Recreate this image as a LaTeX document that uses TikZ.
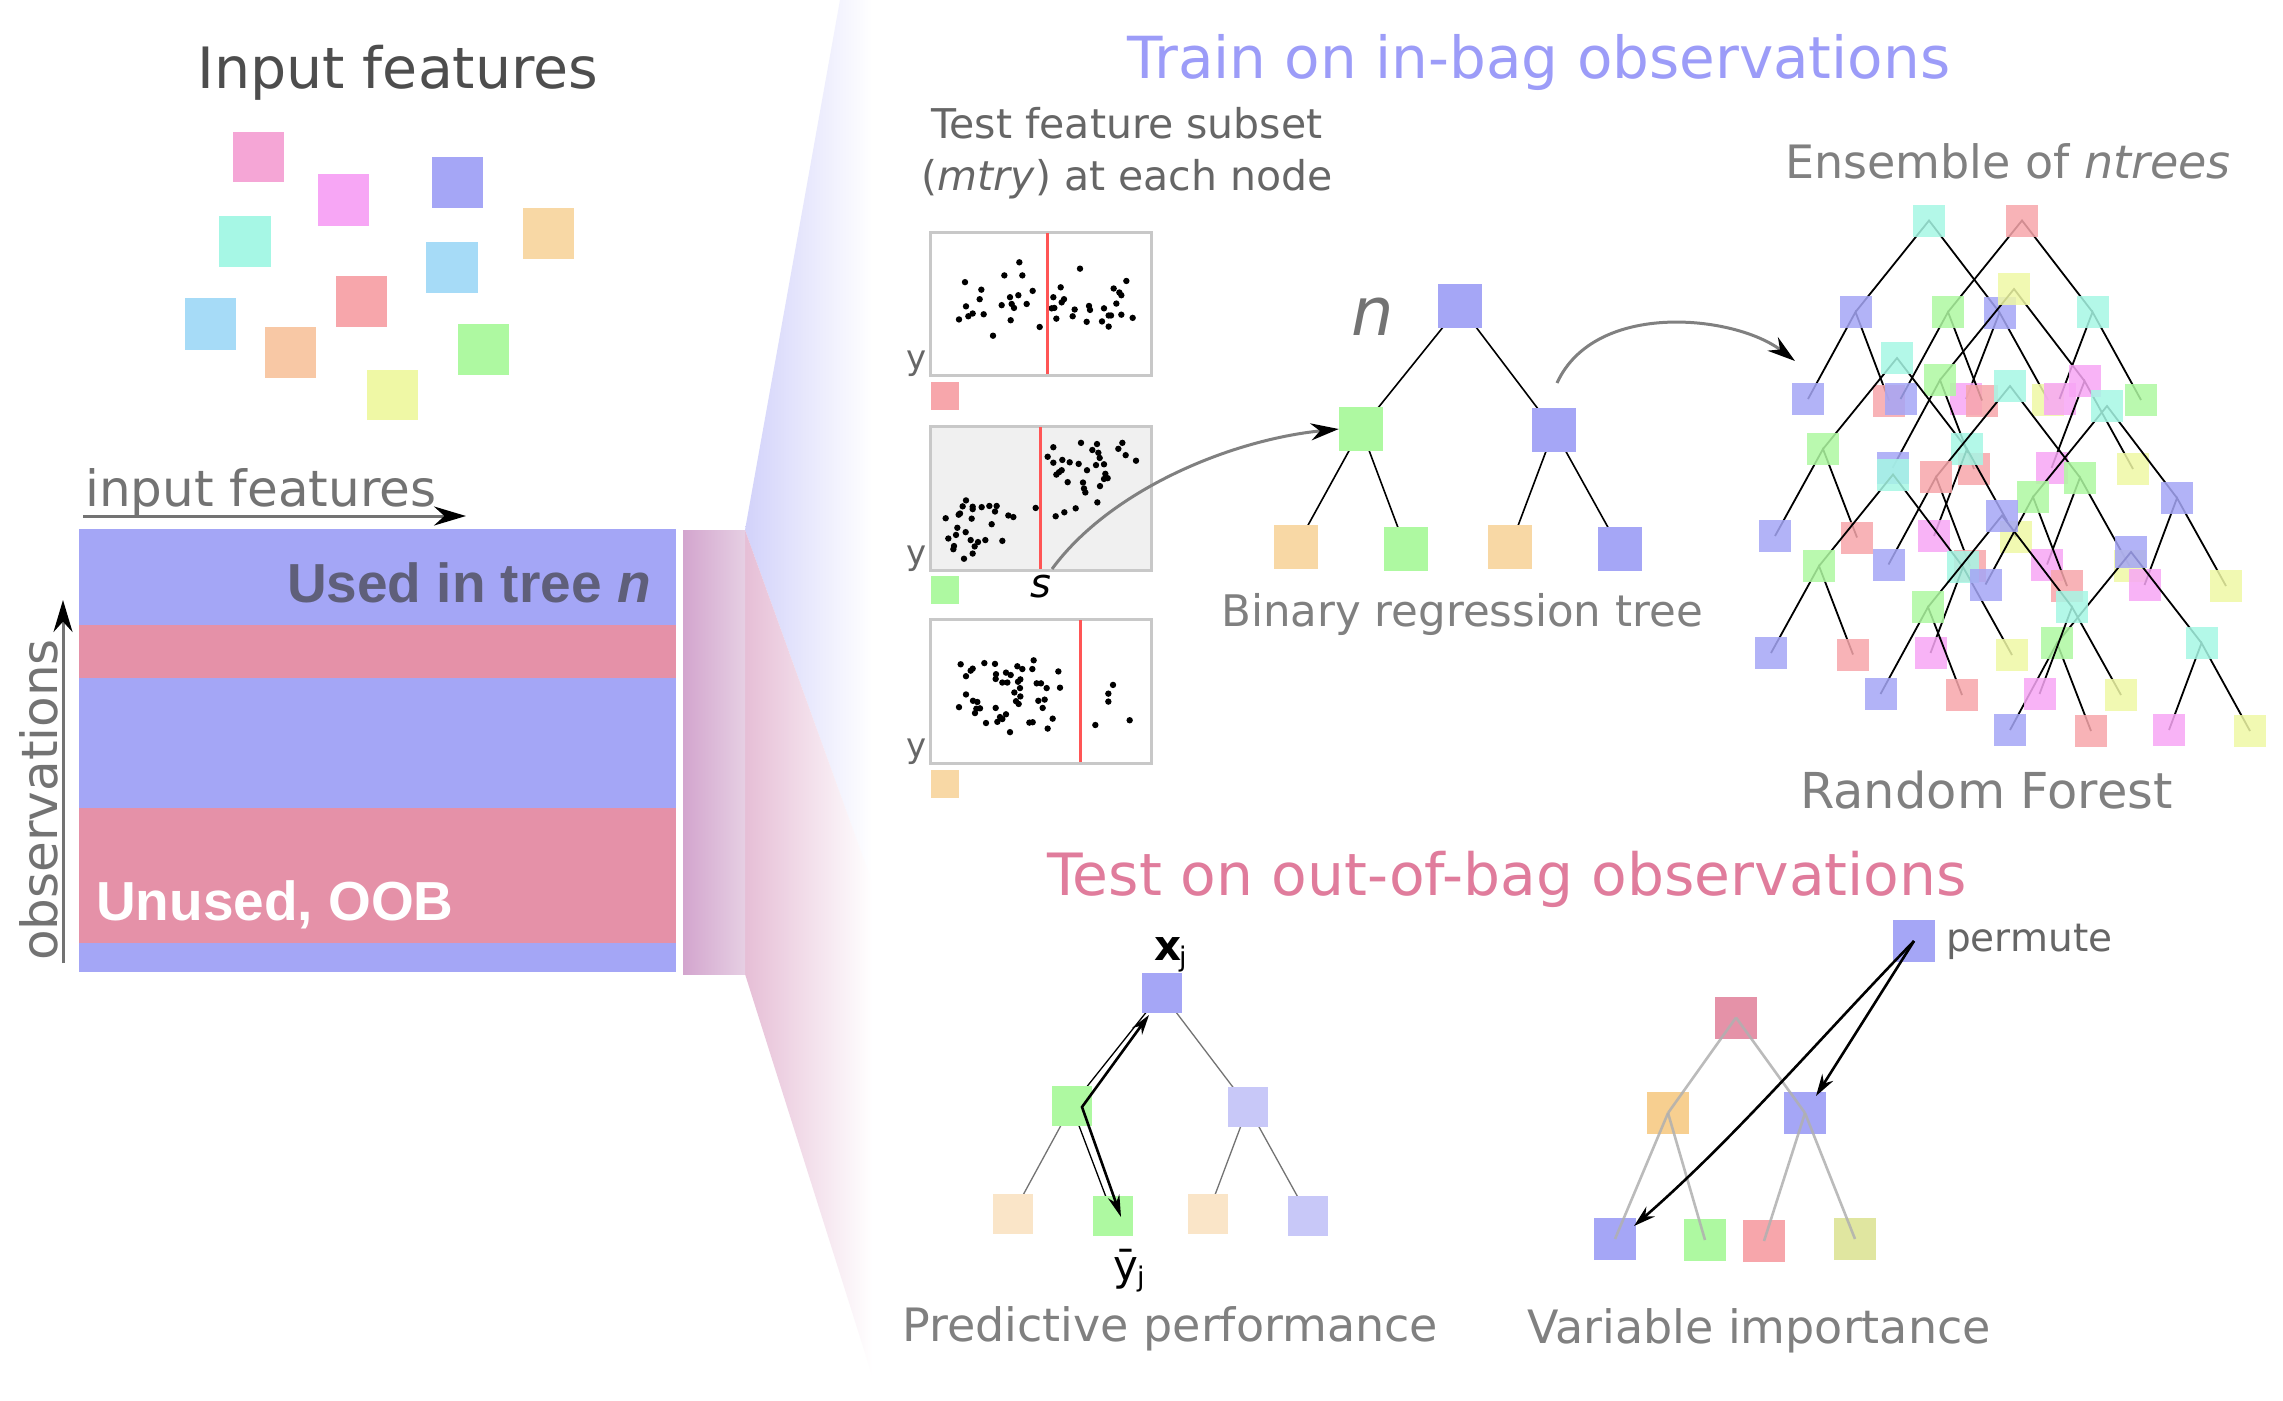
\documentclass[tikz,border=0pt]{standalone}
\usepackage{fontspec}
\setmainfont{DejaVu Sans}
\newfontfamily\arialf{Liberation Sans}
\usetikzlibrary{arrows.meta}
\newcommand\fsz[1]{\fontsize{#1}{#1}\selectfont}
\definecolor{cB}{HTML}{A5A6F6}
\definecolor{cC}{HTML}{A6F7E5}
\definecolor{cR}{HTML}{F7A6AB}
\definecolor{cG}{HTML}{AEF9A1}
\definecolor{cM}{HTML}{F7A6F5}
\definecolor{cY}{HTML}{EFF8A5}
\definecolor{cO}{HTML}{F8D8A5}
\definecolor{cP}{HTML}{F8C8A5}
\definecolor{cK}{HTML}{F5A6D6}
\definecolor{cL}{HTML}{A6DBF7}
\definecolor{stripB}{HTML}{A4A6F6}
\definecolor{stripP}{HTML}{E591A8}
\definecolor{trainC}{HTML}{9C9CF8}
\definecolor{testC}{HTML}{E07C9C}
\definecolor{lightB}{HTML}{C8C8F8}
\definecolor{lightO}{HTML}{FAE5C8}
\definecolor{oliveY}{HTML}{E0E6A0}
\definecolor{rootP}{HTML}{E592A8}
\definecolor{orngV}{HTML}{F7CF90}
\definecolor{g50}{HTML}{808080}
\definecolor{g45}{HTML}{737373}
\definecolor{g40}{HTML}{666666}
\definecolor{g30}{HTML}{4D4D4D}
\definecolor{usedC}{HTML}{5F5F7A}
\definecolor{boxgray}{HTML}{C8C8C8}
\definecolor{boxfill}{HTML}{F0F0F0}
\definecolor{splitred}{HTML}{FF5555}
\definecolor{wedgeB}{HTML}{D2D2FA}
\definecolor{wedgeP}{HTML}{E6BED6}
\definecolor{barL}{HTML}{D3A5CE}
\definecolor{barR}{HTML}{E6CFE3}
\definecolor{vgray}{HTML}{B0B0B0}
\begin{document}
\begin{tikzpicture}[x=1pt,y=-1pt,
  lbl/.style={inner sep=0pt, anchor=base west},
  sqn/.style={rectangle, inner sep=0pt, minimum size=#1, draw=none},
  esq/.style={rectangle, inner sep=0pt, minimum size=32pt, fill opacity=0.85, draw=none},
  eedge/.style={line width=1.8pt, draw=black},
  tedge/.style={line width=1.6pt, draw=black},
  pedge/.style={line width=1.3pt, draw=g45},
  vedge/.style={line width=2.6pt, draw=vgray, opacity=0.85},
  gcurve/.style={line width=3pt, draw=g50, -{Stealth[length=28pt,width=17pt,color=black]}},
  pbox/.style={draw=boxgray, line width=3pt},
  splitl/.style={draw=splitred, line width=3pt}
]
\useasboundingbox (0,0) rectangle (2283,1400);
\fill[white] (0,0) rectangle (2283,1400);

% ---------- wedges and bar ----------
\shade[left color=wedgeB, right color=white] (745,530) -- (840,0) -- (872,0) -- (872,882) -- cycle;
\shade[left color=wedgeP, right color=white] (745,530) -- (872,882) -- (872,1375) -- (745,974) -- cycle;
\shade[left color=barL, right color=barR] (683,530) rectangle (745,974);

% ---------- input feature squares ----------
\fill[cK] (233,132) rectangle (284,182);
\fill[cM] (318,174) rectangle (369,226);
\fill[cB] (432,157) rectangle (483,208);
\fill[cO] (523,208) rectangle (574,259);
\fill[cC] (219,216) rectangle (271,267);
\fill[cL] (426,242) rectangle (478,293);
\fill[cR] (336,276) rectangle (387,327);
\fill[cL] (185,298) rectangle (236,350);
\fill[cP] (265,327) rectangle (316,378);
\fill[cG] (458,324) rectangle (509,375);
\fill[cY] (367,370) rectangle (418,420);
\node[lbl, text=g30] (tInput) at (197,88) {\fsz{57}Input features};

% ---------- main box ----------
\fill[stripB] (79,529) rectangle (676,625);
\fill[stripP] (79,625) rectangle (676,677.5);
\fill[stripB] (79,677.5) rectangle (676,808);
\fill[stripP] (79,808) rectangle (676,942.5);
\fill[stripB] (79,942.5) rectangle (676,972);
\node[inner sep=0pt, anchor=base east, text=usedC] (tUsed) at (651,602) {\arialf\bfseries\fsz{55}Used in tree \textit{n}};
\node[lbl, text=white] (tUnused) at (96,920) {\arialf\bfseries\fsz{55}Unused, OOB};

\node[lbl, text=g45] (tInF) at (85,506) {\fsz{50}input features};
\coordinate (ifA) at (83,516);
\coordinate (ifB) at (466,516);
\draw[line width=3pt, draw=g45, -{Stealth[length=32pt,width=19pt,color=black]}] (ifA) -- (ifB);
\node[lbl, text=g45, rotate=90] (tObs) at (57,961) {\fsz{50}observations};
\coordinate (obA) at (63,963);
\coordinate (obB) at (63,600);
\draw[line width=3pt, draw=g45, -{Stealth[length=32pt,width=19pt,color=black]}] (obA) -- (obB);

% ---------- titles ----------
\node[lbl, text=trainC] (tTrain) at (1127,78) {\fsz{58}Train on in-bag observations};
\node[lbl, text=testC] (tTest) at (1047,895) {\fsz{58.3}Test on out-of-bag observations};
\node[inner sep=0pt, anchor=base, text=g40] (tSub1) at (1127,138) {\fsz{41}Test feature subset};
\node[inner sep=0pt, anchor=base, text=g40] (tSub2) at (1127,190) {\fsz{41}(\textit{mtry}) at each node};
\node[inner sep=0pt, anchor=base, text=g50] (tEns) at (2008,178) {\fsz{46}Ensemble of \textit{ntrees}};
\node[lbl, text=g50] (tRF) at (1800,808) {\fsz{49.5}Random Forest};
\node[lbl, text=g50] (tBin) at (1221,626) {\fsz{43.5}Binary regression tree};
\node[lbl, text=g50] (tPred) at (902,1341) {\fsz{46}Predictive performance};
\node[lbl, text=g50] (tVar) at (1527,1343) {\fsz{46}Variable importance};

% ---------- scatter plots ----------
\draw[pbox] (930,232) rectangle (1151,375);
\filldraw[pbox, fill=boxfill] (930,426) rectangle (1151,570);
\draw[pbox] (930,619) rectangle (1151,763);
\foreach \x/\y in {418/157,600/173,373/190,427/190,255/207,739/204,304/226,542/220,458/229,701/223,718/233,724/240,299/250,390/245,415/240,520/245,552/250,545/258,365/265,395/262,402/272,440/262,258/268,627/267,709/261,515/273,584/276,672/273,630/277,237/301,265/293,278/286,311/288,392/303,529/299,578/293,620/307,666/306,686/291,686/319,724/289,758/297,479/320,339/342,523/272,693/291}
  \fill ({880+\x/3},{200+\y/2.52}) circle[radius=3.2];
\foreach \x/\y in {520/623,603/612,651/615,727/612,637/630,715/627,655/637,503/647,547/655,520/662,569/661,596/665,659/650,737/643,768/657,621/681,648/668,672/666,545/681,537/686,529/692,676/690,683/701,672/703,563/711,609/712,660/721,612/727,616/737,652/762,587/777,553/787,527/797,467/776,258/757,248/772,278/773,278/779,305/774,328/771,350/771,345/785,240/790,236/793,385/795,400/799,197/802,275/803,335/817,232/826,257/837,228/844,205/853,272/857,294/862,316/857,367/859,284/873,222/872,220/880,278/891,252/904}
  \fill ({880+\x/3},{200+\y/2.52}) circle[radius=3.2];
\foreach \x/\y in {242/1170,278/1181,272/1186,313/1167,345/1169,412/1175,461/1160,427/1182,457/1182,535/1188,258/1200,348/1195,378/1191,392/1197,347/1207,367/1216,382/1216,414/1214,421/1208,470/1218,483/1218,500/1230,540/1229,420/1230,403/1241,258/1246,421/1251,408/1263,279/1262,292/1265,416/1270,475/1262,494/1259,237/1278,289/1282,300/1281,347/1280,488/1280,285/1293,378/1296,360/1303,367/1308,352/1315,318/1318,448/1317,458/1316,518/1307,503/1332,390/1341,699/1222,685/1244,685/1264,646/1323,749/1311}
  \fill ({880+\x/3},{200+\y/2.52}) circle[radius=3.2];
\draw[splitl] (1047,233) -- (1047,374);
\draw[splitl] (1040,427) -- (1040,569);
\draw[splitl] (1080,620) -- (1080,762);
\node[sqn=28pt, fill=cR] (sq1) at (945,396) {};
\node[sqn=28pt, fill=cG] (sq2) at (945,590) {};
\node[sqn=28pt, fill=cO] (sq3) at (945,784) {};
\node[lbl, text=g40] (y1) at (906,369) {\fsz{34}y};
\node[lbl, text=g40] (y2) at (906,564) {\fsz{34}y};
\node[lbl, text=g40] (y3) at (906,757) {\fsz{34}y};
\node[lbl, text=black] (sLab) at (1030,597) {\fsz{40}\textit{s}};

% ---------- binary regression tree ----------
\coordinate (b0) at (1460,306);
\coordinate (b1) at (1361,429);
\coordinate (b2) at (1554,430);
\coordinate (b3) at (1296,547);
\coordinate (b4) at (1406,549);
\coordinate (b5) at (1510,547);
\coordinate (b6) at (1620,549);
\draw[tedge] (b0) -- (b1);
\draw[tedge] (b0) -- (b2);
\draw[tedge] (b1) -- (b3);
\draw[tedge] (b1) -- (b4);
\draw[tedge] (b2) -- (b5);
\draw[tedge] (b2) -- (b6);
\node[sqn=44pt, fill=cB] (nb0) at (b0) {};
\node[sqn=44pt, fill=cG] (nb1) at (b1) {};
\node[sqn=44pt, fill=cB] (nb2) at (b2) {};
\node[sqn=44pt, fill=cO] (nb3) at (b3) {};
\node[sqn=44pt, fill=cG] (nb4) at (b4) {};
\node[sqn=44pt, fill=cO] (nb5) at (b5) {};
\node[sqn=44pt, fill=cB] (nb6) at (b6) {};
\node[lbl, text=g45] (nLab) at (1351,335) {\fsz{67}\textit{n}};

\coordinate (sStart) at (1052,569);
\draw[gcurve] (sStart) .. controls (1110,490) and (1230,440) .. (nb1.west);
\coordinate (eStart) at (1557,383);
\coordinate (eEnd) at (1795,361);
\draw[gcurve] (eStart) .. controls (1595,300) and (1735,315) .. (eEnd);

% ---------- ensemble ----------
\coordinate (e1) at (1929,220.5);
\coordinate (e2) at (2022,220.5);
\coordinate (e3) at (2014,289);
\coordinate (e4) at (1855.5,312);
\coordinate (e5) at (1948,312);
\coordinate (e6) at (1999.5,312.5);
\coordinate (e7) at (2092.5,312);
\coordinate (e8) at (1897,358);
\coordinate (e9) at (1940,380);
\coordinate (e10) at (2084.5,381);
\coordinate (e11) at (1808,399);
\coordinate (e12) at (1889,400.5);
\coordinate (e13) at (1900.5,399);
\coordinate (e14) at (1966,399);
\coordinate (e15) at (1982,400.5);
\coordinate (e16) at (2010,386);
\coordinate (e17) at (2048,400);
\coordinate (e18) at (2059.5,399);
\coordinate (e19) at (2107,406);
\coordinate (e20) at (2141,400);
\coordinate (e21) at (1823,449);
\coordinate (e22) at (1967,449);
\coordinate (e23) at (1892.5,468);
\coordinate (e63) at (1893,474.5);
\coordinate (e24) at (1936,477);
\coordinate (e25) at (1974,469);
\coordinate (e26) at (2051.5,468);
\coordinate (e27) at (2080,477.5);
\coordinate (e28) at (2133,469);
\coordinate (e29) at (2033,497);
\coordinate (e30) at (2177,498);
\coordinate (e31) at (2002,515.5);
\coordinate (e32) at (1775,536);
\coordinate (e33) at (1857,537.5);
\coordinate (e34) at (1934,536);
\coordinate (e35) at (2016,537);
\coordinate (e36) at (1819,566);
\coordinate (e37) at (1888.5,564.5);
\coordinate (e38) at (1970,566);
\coordinate (e39) at (1963,567);
\coordinate (e40) at (2047,564.5);
\coordinate (e41) at (2129.5,566);
\coordinate (e42) at (2131,552);
\coordinate (e43) at (1985.5,584.5);
\coordinate (e44) at (2067,586);
\coordinate (e45) at (2144.5,585);
\coordinate (e46) at (2226,586);
\coordinate (e47) at (2072,607);
\coordinate (e48) at (1928,607);
\coordinate (e49) at (1771,653);
\coordinate (e50) at (1853,654.5);
\coordinate (e51) at (1930.5,653);
\coordinate (e52) at (2012,655);
\coordinate (e53) at (2057,643);
\coordinate (e54) at (2201.5,643);
\coordinate (e55) at (1880.5,694);
\coordinate (e56) at (1962,695);
\coordinate (e57) at (2039.5,694);
\coordinate (e58) at (2121,695);
\coordinate (e59) at (2010,730);
\coordinate (e60) at (2091,731);
\coordinate (e61) at (2169,730);
\coordinate (e62) at (2250,731);
% tree A
\draw[eedge] (e4) -- (e1) -- (e6);
\draw[eedge] (e11) -- (e4) -- (e12);
\draw[eedge] (e14) -- (e6) -- (e17);
\node[esq, fill=cC] (n1) at (e1) {};
\node[esq, fill=cB] (n4) at (e4) {};
\node[esq, fill=cB] (n6) at (e6) {};
\node[esq, fill=cB] (n11) at (e11) {};
\node[esq, fill=cR] (n12) at (e12) {};
\node[esq, fill=cM] (n14) at (e14) {};
\node[esq, fill=cY] (n17) at (e17) {};
% tree B
\draw[eedge] (e5) -- (e2) -- (e7);
\draw[eedge] (e13) -- (e5) -- (e15);
\draw[eedge] (e18) -- (e7) -- (e20);
\node[esq, fill=cR] (n2) at (e2) {};
\node[esq, fill=cG] (n5) at (e5) {};
\node[esq, fill=cC] (n7) at (e7) {};
\node[esq, fill=cB] (n13) at (e13) {};
\node[esq, fill=cR] (n15) at (e15) {};
\node[esq, fill=cM] (n18) at (e18) {};
\node[esq, fill=cG] (n20) at (e20) {};
% tree C
\draw[eedge] (e9) -- (e3) -- (e10);
\draw[eedge] (e23) -- (e9) -- (e25);
\draw[eedge] (e26) -- (e10) -- (e28);
\node[esq, fill=cY] (n3) at (e3) {};
\node[esq, fill=cG] (n9) at (e9) {};
\node[esq, fill=cM] (n10) at (e10) {};
\node[esq, fill=cB] (n23) at (e23) {};
\node[esq, fill=cR] (n25) at (e25) {};
\node[esq, fill=cM] (n26) at (e26) {};
\node[esq, fill=cY] (n28) at (e28) {};
% tree D
\draw[eedge] (e21) -- (e8) -- (e22);
\draw[eedge] (e32) -- (e21) -- (e33);
\draw[eedge] (e34) -- (e22) -- (e35);
\node[esq, fill=cC] (n8) at (e8) {};
\node[esq, fill=cG] (n21) at (e21) {};
\node[esq, fill=cC] (n22) at (e22) {};
\node[esq, fill=cB] (n32) at (e32) {};
\node[esq, fill=cR] (n33) at (e33) {};
\node[esq, fill=cM] (n34) at (e34) {};
\node[esq, fill=cY] (n35) at (e35) {};
% tree E
\draw[eedge] (e24) -- (e16) -- (e27);
\draw[eedge] (e37) -- (e24) -- (e38);
\draw[eedge] (e40) -- (e27) -- (e41);
\node[esq, fill=cC] (n16) at (e16) {};
\node[esq, fill=cR] (n24) at (e24) {};
\node[esq, fill=cG] (n27) at (e27) {};
\node[esq, fill=cB] (n37) at (e37) {};
\node[esq, fill=cR] (n38) at (e38) {};
\node[esq, fill=cM] (n40) at (e40) {};
\node[esq, fill=cY] (n41) at (e41) {};
% tree F
\draw[eedge] (e36) -- (e63) -- (e39);
\draw[eedge] (e49) -- (e36) -- (e50);
\draw[eedge] (e51) -- (e39) -- (e52);
\node[esq, fill=cC] (n63) at (e63) {};
\node[esq, fill=cG] (n36) at (e36) {};
\node[esq, fill=cC] (n39) at (e39) {};
\node[esq, fill=cB] (n49) at (e49) {};
\node[esq, fill=cR] (n50) at (e50) {};
\node[esq, fill=cM] (n51) at (e51) {};
\node[esq, fill=cY] (n52) at (e52) {};
% tree G
\draw[eedge] (e29) -- (e19) -- (e30);
\draw[eedge] (e43) -- (e29) -- (e44);
\draw[eedge] (e45) -- (e30) -- (e46);
\node[esq, fill=cC] (n19) at (e19) {};
\node[esq, fill=cG] (n29) at (e29) {};
\node[esq, fill=cB] (n30) at (e30) {};
\node[esq, fill=cB] (n43) at (e43) {};
\node[esq, fill=cR] (n44) at (e44) {};
\node[esq, fill=cM] (n45) at (e45) {};
\node[esq, fill=cY] (n46) at (e46) {};
% tree H
\draw[eedge] (e53) -- (e42) -- (e54);
\draw[eedge] (e59) -- (e53) -- (e60);
\draw[eedge] (e61) -- (e54) -- (e62);
\node[esq, fill=cB] (n42) at (e42) {};
\node[esq, fill=cG] (n53) at (e53) {};
\node[esq, fill=cC] (n54) at (e54) {};
\node[esq, fill=cB] (n59) at (e59) {};
\node[esq, fill=cR] (n60) at (e60) {};
\node[esq, fill=cM] (n61) at (e61) {};
\node[esq, fill=cY] (n62) at (e62) {};
% tree I
\draw[eedge] (e48) -- (e31) -- (e47);
\draw[eedge] (e55) -- (e48) -- (e56);
\draw[eedge] (e57) -- (e47) -- (e58);
\node[esq, fill=cB] (n31) at (e31) {};
\node[esq, fill=cG] (n48) at (e48) {};
\node[esq, fill=cC] (n47) at (e47) {};
\node[esq, fill=cB] (n55) at (e55) {};
\node[esq, fill=cR] (n56) at (e56) {};
\node[esq, fill=cM] (n57) at (e57) {};
\node[esq, fill=cY] (n58) at (e58) {};

% ---------- predictive performance tree ----------
\coordinate (p0) at (1161.5,993);
\coordinate (p1) at (1071.5,1106);
\coordinate (p2) at (1248,1107);
\coordinate (p3) at (1013,1213.5);
\coordinate (p4) at (1113,1215.5);
\coordinate (p5) at (1208,1213.5);
\coordinate (p6) at (1308,1215.5);
\draw[pedge, draw=black] (p0) -- (p1);
\draw[pedge, draw=black] (p1) -- (p4);
\draw[pedge] (p0) -- (p2);
\draw[pedge] (p1) -- (p3);
\draw[pedge] (p2) -- (p5);
\draw[pedge] (p2) -- (p6);
\node[sqn=40pt, fill=cB] (np0) at (p0) {};
\node[sqn=40pt, fill=cG] (np1) at (p1) {};
\node[sqn=40pt, fill=lightB] (np2) at (p2) {};
\node[sqn=40pt, fill=lightO] (np3) at (p3) {};
\node[sqn=40pt, fill=cG] (np4) at (p4) {};
\node[sqn=40pt, fill=lightO] (np5) at (p5) {};
\node[sqn=40pt, fill=lightB] (np6) at (p6) {};
\coordinate (pa) at (1149,1015);
\coordinate (pb) at (1082,1107);
\coordinate (pc) at (1121,1217);
\draw[line width=2.6pt, {Stealth[length=20pt,width=12pt]}-{Stealth[length=22pt,width=12pt]}] (pa) -- (pb) -- (pc);
\node[lbl] (xj) at (1154,960) {\fsz{42}\bfseries x};
\node[lbl] (xjs) at (1179,966) {\fsz{27}j};
\node[lbl] (yj) at (1113,1280) {\fsz{42}ȳ};
\node[lbl] (yjs) at (1137,1286) {\fsz{27}j};

% ---------- variable importance ----------
\node[sqn=42pt, fill=rootP] (v0) at (1736,1017.5) {};
\node[sqn=42pt, fill=orngV] (v1) at (1668,1113) {};
\node[sqn=42pt, fill=cB] (v2) at (1805,1113) {};
\node[sqn=42pt, fill=cB] (v3) at (1615,1239) {};
\node[sqn=42pt, fill=cG] (v4) at (1705,1240) {};
\node[sqn=42pt, fill=cR] (v5) at (1764,1241) {};
\node[sqn=42pt, fill=oliveY] (v6) at (1855,1239) {};
\node[sqn=42pt, fill=cB] (vp) at (1914,941) {};
\draw[vedge] (v0.center) -- (v1.center);
\draw[vedge] (v0.center) -- (v2.center);
\draw[vedge] (v1.center) -- (v3.center);
\draw[vedge] (v1.center) -- (v4.center);
\draw[vedge] (v2.center) -- (v5.center);
\draw[vedge] (v2.center) -- (v6.center);
\node[lbl, text=g40] (tPerm) at (1946,951) {\fsz{39}permute};
\coordinate (v3t) at (1634,1226);
\coordinate (v2t) at (1816,1096);
\draw[line width=2.6pt, -{Stealth[length=22pt,width=13pt]}] (vp.center) .. controls (1820,1038) and (1735,1138) .. (v3t);
\draw[line width=2.6pt, -{Stealth[length=22pt,width=13pt]}] (vp.center) -- (v2t);
\end{tikzpicture}
\end{document}
